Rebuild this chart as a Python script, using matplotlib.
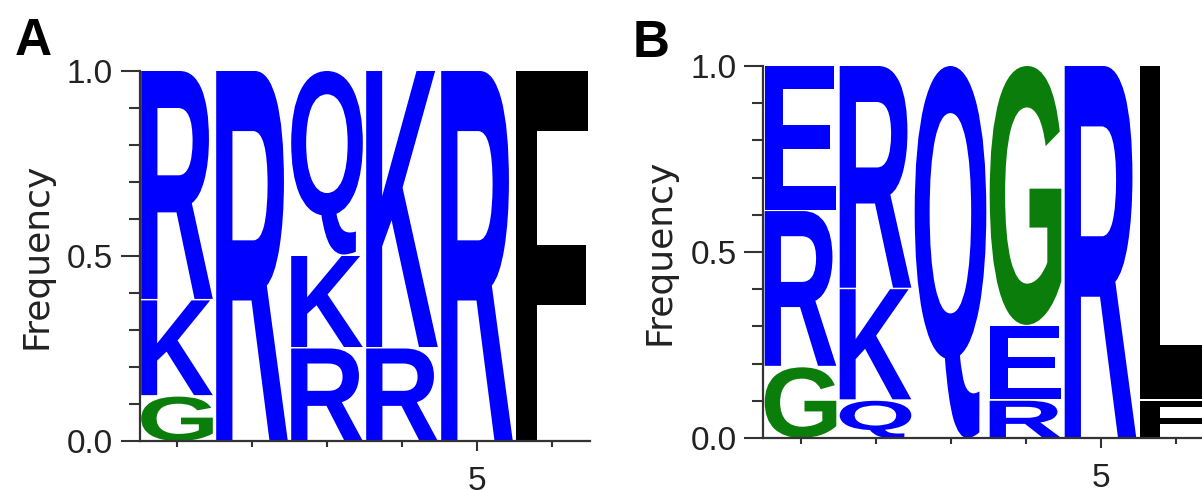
"""
Logos de secuencia (frecuencia por posición) para los paneles A y B.
"""
import matplotlib
matplotlib.use('Agg')
import matplotlib.pyplot as plt
import matplotlib.transforms as mtransforms
from matplotlib.textpath import TextPath
from matplotlib.patches import PathPatch
from matplotlib.font_manager import FontProperties
from matplotlib.ticker import MultipleLocator, FixedLocator

# Datos: letras de abajo hacia arriba en cada posición y su frecuencia
positions = [1, 2, 3, 4, 5, 6]

a_letters = [['G', 'K', 'R'], ['R'], ['R', 'K', 'Q'], ['R', 'K'], ['R'], ['F']]
a_freqs = [[0.12, 0.26, 0.62], [1.0], [0.25, 0.25, 0.50], [0.25, 0.75], [1.0], [1.0]]

b_letters = [['G', 'R', 'E'], ['Q', 'K', 'R'], ['Q'], ['R', 'E', 'G'], ['R'], ['F', 'L']]
b_freqs = [[0.19, 0.42, 0.39], [0.10, 0.30, 0.60], [1.0], [0.10, 0.20, 0.70], [1.0], [0.10, 0.90]]

letter_colors = {'G': '#0a7d0a', 'F': 'black', 'L': 'black'}
default_color = '#0000ff'

y_ticks = [0.0, 0.5, 1.0]
y_tick_labels = ['0.0', '0.5', '1.0']
x_label_pos = [5]

W, H = 1202, 490
glyph_font = FontProperties(family='Liberation Sans', weight='bold')


def draw_letter(ax, ch, x, y0, h, color, w=0.955):
    """Dibuja una letra estirada para llenar la caja (x-w/2, y0)-(x+w/2, y0+h)."""
    tp = TextPath((0, 0), ch, size=1, prop=glyph_font)
    ext = tp.get_extents()
    t = (mtransforms.Affine2D()
         .translate(-ext.x0, -ext.y0)
         .scale(w / ext.width, h / ext.height)
         .translate(x - w / 2, y0))
    ax.add_patch(PathPatch(t.transform_path(tp), facecolor=color,
                           edgecolor='none', lw=0))


def draw_logo(ax, letters, freqs):
    for pos, col_letters, col_freqs in zip(positions, letters, freqs):
        y = 0.0
        for ch, f in zip(col_letters, col_freqs):
            gap = 0.004 if y > 0 else 0.0
            draw_letter(ax, ch, pos, y + gap, f - gap,
                        letter_colors.get(ch, default_color))
            y += f

    ax.set_xlim(0.5, 6.5)
    ax.set_ylim(0, 1)
    for s in ['top', 'right']:
        ax.spines[s].set_visible(False)
    for s in ['left', 'bottom']:
        ax.spines[s].set_color('#333333')
        ax.spines[s].set_linewidth(1.6)

    ax.yaxis.set_major_locator(FixedLocator(y_ticks))
    ax.set_yticklabels(y_tick_labels)
    ax.yaxis.set_minor_locator(MultipleLocator(0.1))
    ax.xaxis.set_major_locator(FixedLocator(x_label_pos))
    ax.set_xticklabels([str(p) for p in x_label_pos])
    ax.xaxis.set_minor_locator(FixedLocator([p for p in positions if p not in x_label_pos]))

    ax.tick_params(axis='y', which='major', length=14, width=1.5, pad=5,
                   color='#333333', labelcolor='#222222', labelsize=24)
    ax.tick_params(axis='y', which='minor', length=8, width=1.5, color='#333333')
    ax.tick_params(axis='x', which='major', length=7, width=1.5, pad=11,
                   color='#333333', labelcolor='#222222', labelsize=24)
    ax.tick_params(axis='x', which='minor', length=4, width=1.5, color='#333333')
    for lab in ax.get_xticklabels() + ax.get_yticklabels():
        lab.set_family('Liberation Sans')

    ax.set_ylabel('Frequency', fontsize=26, family='DejaVu Sans', color='#222222')
    ax.yaxis.set_label_coords(-0.192, 0.5)


fig = plt.figure(figsize=(W / 100, H / 100), dpi=100)

ax_a = fig.add_axes([139.5 / W, (H - 441) / H, 450 / W, 370 / H])
draw_logo(ax_a, a_letters, a_freqs)

ax_b = fig.add_axes([763 / W, (H - 438) / H, 450 / W, 372 / H])
draw_logo(ax_b, b_letters, b_freqs)

fig.text(15 / W, (H - 55) / H, 'A', fontsize=37, weight='bold',
         family='Liberation Sans', ha='left', va='baseline')
fig.text(633 / W, (H - 57) / H, 'B', fontsize=37, weight='bold',
         family='Liberation Sans', ha='left', va='baseline')

fig.savefig('out.png', dpi=100)
